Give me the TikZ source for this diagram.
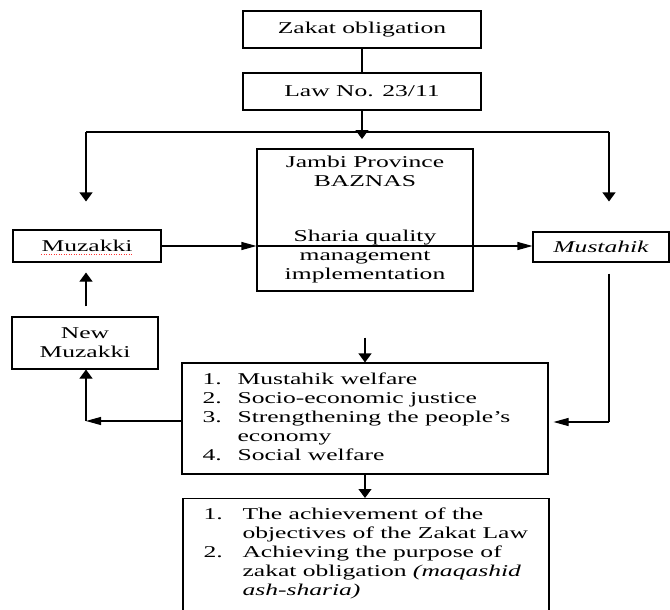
\documentclass[tikz,border=0pt]{standalone}
\usepackage{fontspec}
\setmainfont{Liberation Serif}[FakeStretch=1.55]
\usetikzlibrary{arrows.meta}
\newcommand\diagfont{\fontsize{16.5pt}{19pt}\selectfont}
\begin{document}
\begin{tikzpicture}[x=1pt,y=-1pt,
  line width=1.1pt,
  box/.style={draw, inner sep=0pt, align=center, font=\diagfont},
  txt/.style={inner sep=0pt, font=\diagfont},
  varr/.style={-{Triangle[length=9pt,width=13pt]}},
  harr/.style={-{Triangle[length=15pt,width=8pt]}}]
\clip (0,0) rectangle (670,610);
% boxes
\node[box, minimum width=238pt, minimum height=37pt] (zakat) at (362,29.5) {Zakat obligation};
\node[box, minimum width=238pt, minimum height=37pt] (law) at (362,91.5) {Law No. 23/11};
\node[box, minimum width=216pt, minimum height=142pt] (jambi) at (365,220)
  {Jambi Province\\BAZNAS\\[36pt]Sharia quality\\management\\implementation};
\node[box, minimum width=148pt, minimum height=32pt] (muzakki) at (87,246) {Muzakki};
\node[box, minimum width=136pt, minimum height=30pt] (mustahik) at (601,247) {\itshape Mustahik};
\node[box, minimum width=146pt, minimum height=52pt] (newmuz) at (85,343) {New\\Muzakki};
\node[box, minimum width=366pt, minimum height=111pt] (list) at (365,418.5) {};
\node[txt, anchor=base west] (listtext) at (202,384)
  {\begin{tabular}[t]{@{}p{35pt}@{}l@{}}
   1. & Mustahik welfare\\
   2. & Socio-economic justice\\
   3. & Strengthening the people\symbol{39}s\\
      & economy\\
   4. & Social welfare
   \end{tabular}};
\node[box, minimum width=366pt, minimum height=150pt, anchor=north] (final) at (366,498) {};
\node[txt, anchor=base west] (finaltext) at (203,519)
  {\begin{tabular}[t]{@{}p{39pt}@{}l@{}}
   1. & The achievement of the\\
      & objectives of the Zakat Law\\
   2. & Achieving the purpose of\\
      & zakat obligation \textit{(maqashid}\\
      & \textit{ash-sharia)}
   \end{tabular}};
% spell-check mark under Muzakki
\draw[red!80, line width=0.5pt, dotted] ([xshift=-46pt,yshift=-8pt]muzakki.center) -- ([xshift=46pt,yshift=-8pt]muzakki.center);
% connectors
\coordinate (jL) at (86,132);
\coordinate (jR) at (609,132);
\coordinate (lawtip) at (362,139);
\coordinate (rc) at (609,422);
\coordinate (lc) at (86,421);
\draw (zakat.south) -- (law.north);
\draw (jL) -- (jR);
\draw[varr] (law.south) -- (lawtip);
\draw[varr, shorten >=28pt] (jL) -- (jL |- muzakki.north);
\draw[varr, shorten >=30pt] (jR) -- (jR |- mustahik.north);
\draw[harr] (muzakki.east) -- (jambi.west |- muzakki.east);
\draw[harr] (jambi.west |- muzakki.east) -- (mustahik.west |- muzakki.east);
\draw[varr, shorten <=10pt, shorten >=10pt] (jL |- newmuz.north) -- (jL |- muzakki.south);
\draw[shorten <=11pt] (rc |- mustahik.south) -- (rc);
\draw[harr, shorten >=5pt] (rc) -- (list.east |- rc);
\draw[harr] (list.west |- lc) -- (lc);
\draw[varr] (lc) -- (lc |- newmuz.south);
\draw[varr, shorten <=46pt] (jambi.south) -- (list.north);
\draw[varr] (list.south) -- (list.south |- final.north);
\end{tikzpicture}
\end{document}
